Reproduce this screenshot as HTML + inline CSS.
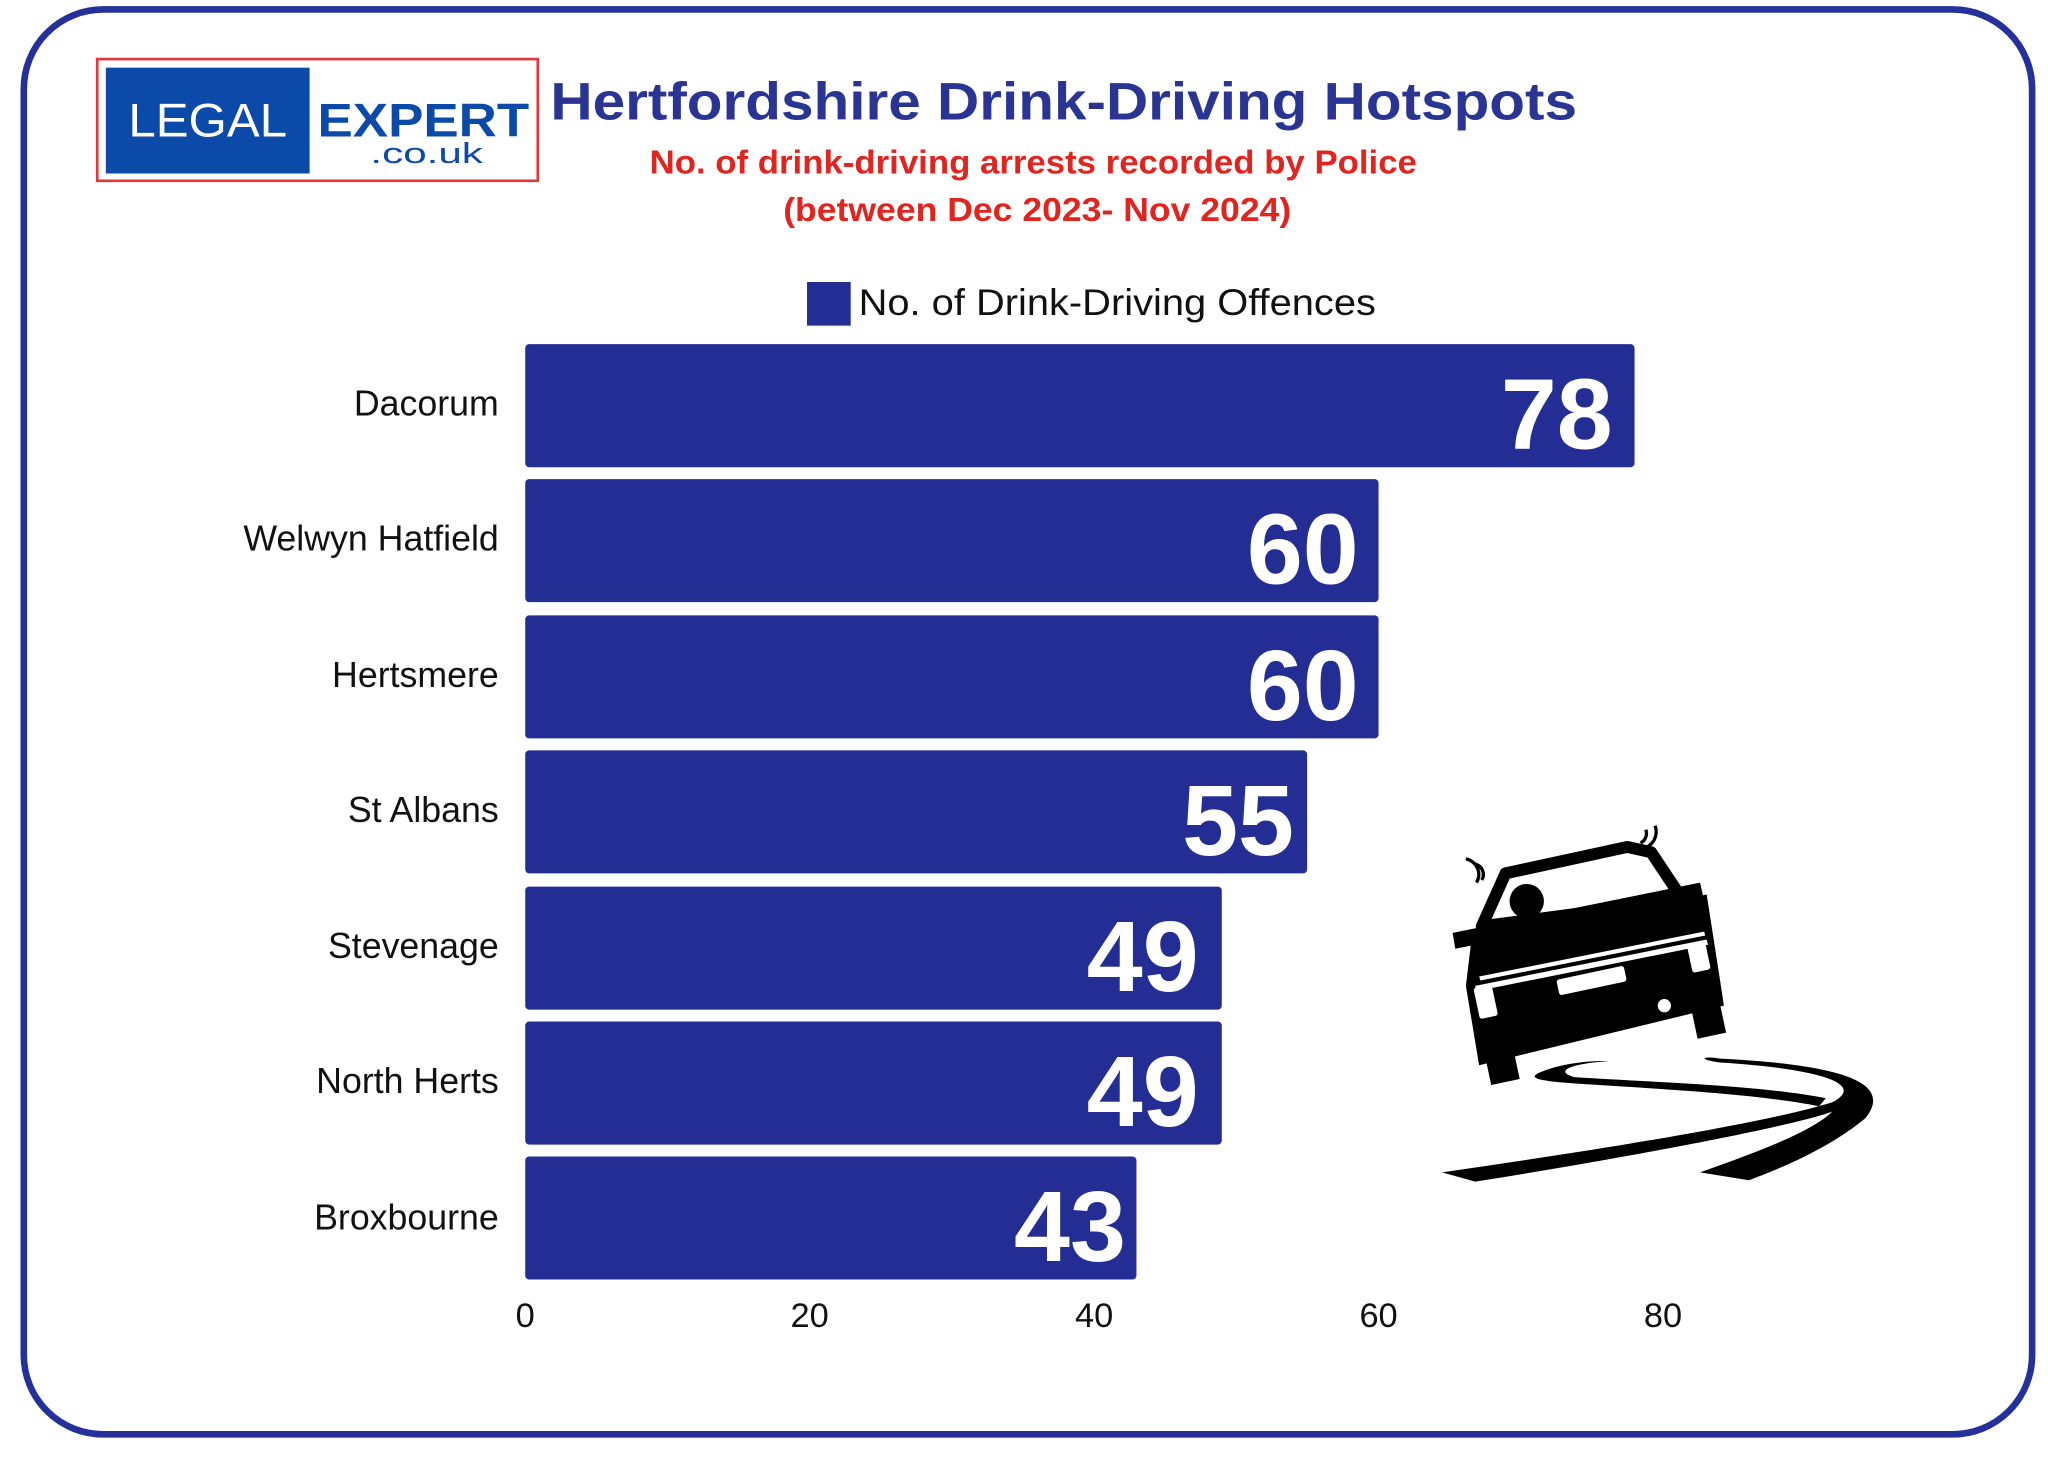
<!DOCTYPE html>
<html><head><meta charset="utf-8"><style>
html,body{margin:0;padding:0;background:#fff;}
svg{display:block;}
text{font-family:"Liberation Sans",sans-serif;}
</style></head><body>
<svg width="2048" height="1457" viewBox="0 0 1548 1101" xmlns="http://www.w3.org/2000/svg">
<rect x="0" y="0" width="1548" height="1101" fill="#fff"/>
<rect x="18" y="7" width="1518" height="1077" rx="60" fill="none" stroke="#25309a" stroke-width="5"/>
<!-- logo -->
<rect x="73.5" y="44.5" width="333" height="92" fill="#fff" stroke="#e0393a" stroke-width="2"/>
<rect x="80" y="51" width="154" height="80" fill="#0b4aa8"/>
<text x="97" y="103" font-size="36" fill="#fff" textLength="120" lengthAdjust="spacingAndGlyphs">LEGAL</text>
<text x="240" y="103" font-size="36" font-weight="bold" fill="#0b4aa8" textLength="160" lengthAdjust="spacingAndGlyphs">EXPERT</text>
<text x="280" y="123" font-size="22" fill="#0b4aa8" textLength="85" lengthAdjust="spacingAndGlyphs">.co.uk</text>
<!-- titles -->
<text x="416" y="90" font-size="40" font-weight="bold" fill="#2a3593" textLength="776" lengthAdjust="spacingAndGlyphs">Hertfordshire Drink-Driving Hotspots</text>
<text x="491" y="131" font-size="25" font-weight="bold" fill="#e02420" textLength="580" lengthAdjust="spacingAndGlyphs">No. of drink-driving arrests recorded by Police</text>
<text x="592" y="167" font-size="25" font-weight="bold" fill="#e02420" textLength="384" lengthAdjust="spacingAndGlyphs">(between Dec 2023- Nov 2024)</text>
<!-- legend -->
<rect x="610" y="213" width="33" height="33" fill="#232d93"/>
<text x="649" y="238" font-size="28" fill="#111" textLength="391" lengthAdjust="spacingAndGlyphs">No. of Drink-Driving Offences</text>
<!-- bars -->
<g fill="#232d93">
<rect x="397" y="260" width="838.5" height="93" rx="3"/>
<rect x="397" y="362" width="645" height="93" rx="3"/>
<rect x="397" y="465" width="645" height="93" rx="3"/>
<rect x="397" y="567" width="591" height="93" rx="3"/>
<rect x="397" y="670" width="526.5" height="93" rx="3"/>
<rect x="397" y="772" width="526.5" height="93" rx="3"/>
<rect x="397" y="874" width="462" height="93" rx="3"/>
</g>
<g font-size="76" font-weight="bold" fill="#fff" text-anchor="end">
<text x="1219" y="339">78</text>
<text x="1027" y="441">60</text>
<text x="1027" y="544">60</text>
<text x="978" y="646">55</text>
<text x="906" y="749">49</text>
<text x="906" y="851">49</text>
<text x="851" y="953">43</text>
</g>
<g font-size="27" fill="#111" text-anchor="end">
<text x="377" y="314">Dacorum</text>
<text x="377" y="416">Welwyn Hatfield</text>
<text x="377" y="519">Hertsmere</text>
<text x="377" y="621">St Albans</text>
<text x="377" y="724">Stevenage</text>
<text x="377" y="826">North Herts</text>
<text x="377" y="929">Broxbourne</text>
</g>
<g font-size="26" fill="#111" text-anchor="middle">
<text x="397" y="1003">0</text>
<text x="612" y="1003">20</text>
<text x="827" y="1003">40</text>
<text x="1042" y="1003">60</text>
<text x="1257" y="1003">80</text>
</g>
<!-- car -->
<g fill="#000">
<path d="M1120 700 L1138 660 L1230 640 L1248 644 L1272 680 Z" fill="none" stroke="#000" stroke-width="9" stroke-linejoin="round"/>
<path d="M1098 705 L1285 667 L1288 680 L1100 717 Z"/>
<path d="M1112 712 L1290 676 L1300 740 L1303 760 L1118 805 L1108 745 Z"/>
<circle cx="1154" cy="681" r="13"/>
<rect x="1124" y="790" width="22" height="28" transform="rotate(-12 1135 804)"/>
<rect x="1280" y="755" width="22" height="28" transform="rotate(-12 1291 769)"/>
<path d="M1090 886 C1200 870 1330 850 1385 833 C1410 820 1380 808 1300 803 C1280 800 1290 798 1300 800 C1400 805 1430 820 1410 845 C1380 870 1340 885 1322 892 L1285 886 C1330 870 1370 855 1385 840 C1360 850 1230 875 1115 893 Z"/>
<path d="M1165 810 C1190 800 1220 802 1215 802 C1185 804 1175 810 1190 814 C1250 818 1330 820 1380 830 L1375 836 C1320 825 1230 822 1180 818 C1160 816 1155 814 1165 810 Z"/>
</g>
<g fill="#fff">
<path d="M1115 745 L1290 710 L1291 714 L1116 749 Z"/>
<path d="M1118 738 L1288 704 L1289 707 L1119 741 Z"/>
<rect x="1177" y="735" width="52" height="12" rx="2" transform="rotate(-12 1203 741)"/>
<rect x="1116" y="745" width="14" height="24" rx="2" transform="rotate(-12 1123 757)"/>
<rect x="1277" y="712" width="14" height="22" rx="2" transform="rotate(-12 1284 723)"/>
<circle cx="1258" cy="760" r="5"/>
</g>
<g fill="none" stroke="#000" stroke-width="2.5">
<path d="M1120 665 a8 8 0 0 0 -5 -12"/><path d="M1116 667 a12 12 0 0 0 -8 -18"/>
<path d="M1240 637 a8 8 0 0 0 4 -10"/><path d="M1245 640 a13 13 0 0 0 6 -16"/>
</g>
</svg>
</body></html>
